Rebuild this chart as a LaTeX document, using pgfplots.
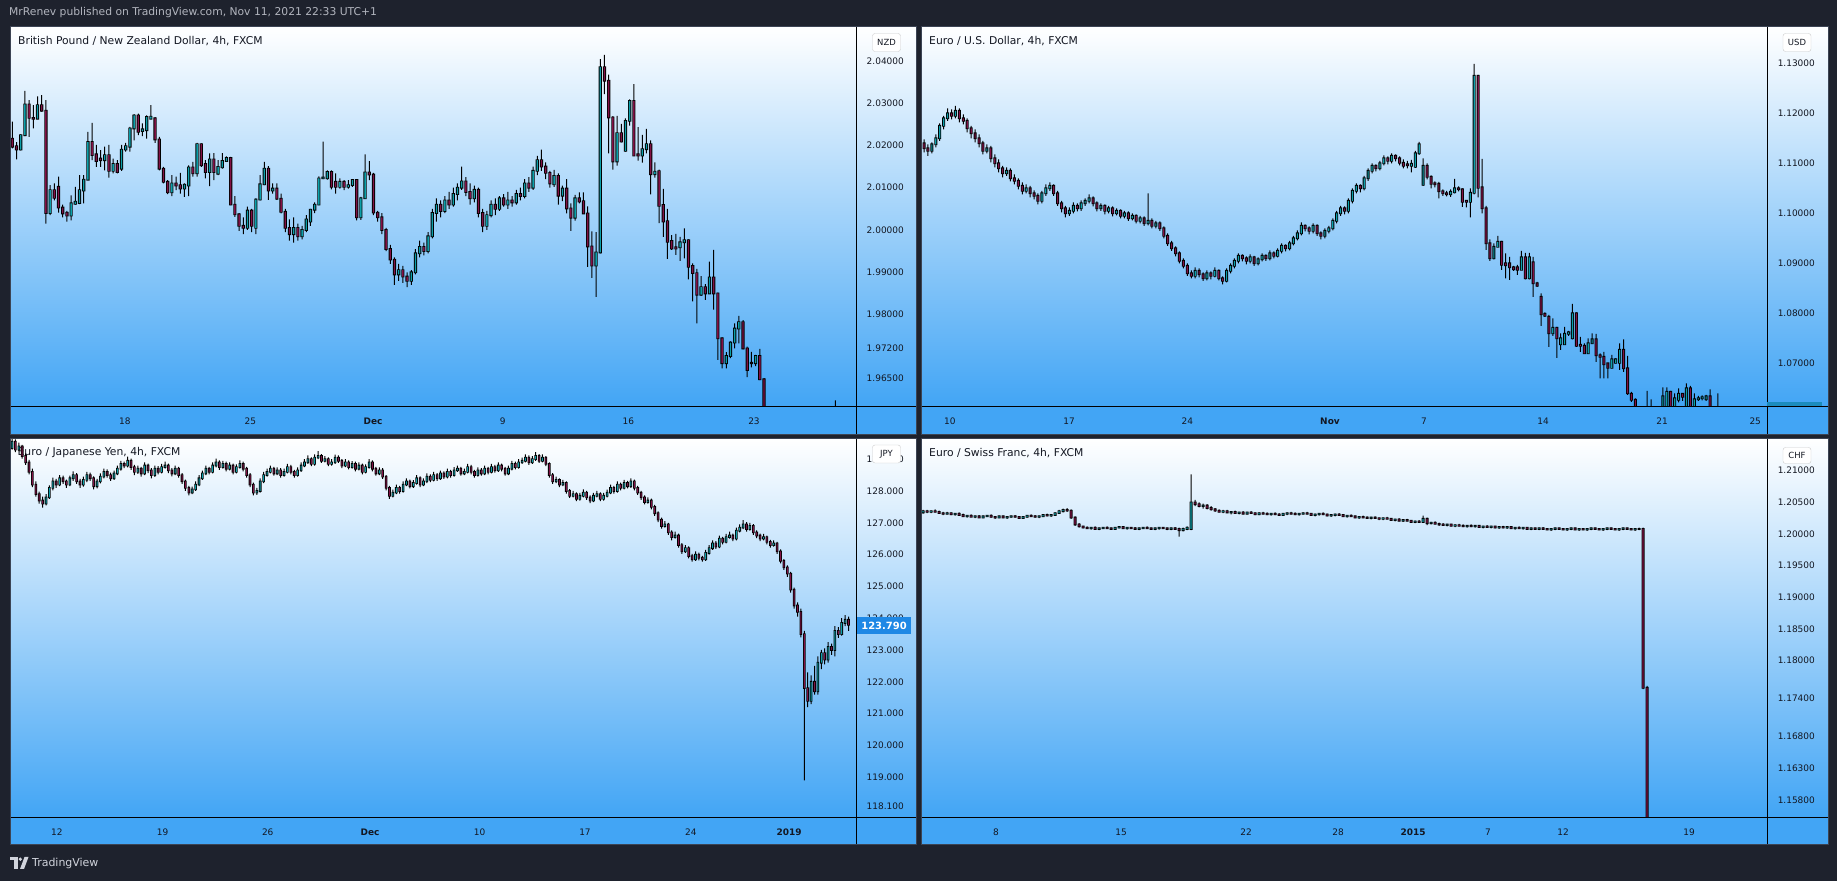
\documentclass[border=0pt]{standalone}
\usepackage{pgfplots}
\usepackage{pgfplotstable}
\usepackage{fontspec}
\pgfplotsset{compat=1.18}
\setmainfont{DejaVu Sans}

\definecolor{bg}{RGB}{30,34,45}
\definecolor{tvblue}{RGB}{66,165,245}
\definecolor{tvtext}{RGB}{19,23,34}
\definecolor{upc}{RGB}{12,160,170}
\definecolor{dnc}{RGB}{130,18,70}
\definecolor{hdr}{RGB}{178,181,190}
\definecolor{ftc}{RGB}{209,212,220}
\definecolor{tagblue}{RGB}{30,136,229}
\definecolor{usdtag}{RGB}{27,140,190}
\definecolor{pframe}{RGB}{60,68,84}

% GBP/NZD 4h, o h l c
\pgfplotstableread{
o h l c
2.0216 2.0256 2.0193 2.0197
2.0198 2.0208 2.0167 2.0190
2.0190 2.0226 2.0188 2.0224
2.0224 2.0329 2.0222 2.0297
2.0297 2.0307 2.0220 2.0265
2.0265 2.0295 2.0240 2.0263
2.0263 2.0316 2.0262 2.0295
2.0295 2.0319 2.0280 2.0282
2.0282 2.0307 2.0015 2.0040
2.0040 2.0106 2.0035 2.0094
2.0094 2.0110 2.0070 2.0076
2.0102 2.0126 2.0041 2.0053
2.0053 2.0060 2.0030 2.0039
2.0041 2.0045 2.0020 2.0034
2.0034 2.0082 2.0023 2.0063
2.0062 2.0102 2.0060 2.0067
2.0064 2.0130 2.0061 2.0094
2.0093 2.0130 2.0063 2.0119
2.0119 2.0232 2.0119 2.0208
2.0208 2.0253 2.0165 2.0177
2.0179 2.0201 2.0149 2.0163
2.0169 2.0189 2.0149 2.0165
2.0165 2.0197 2.0141 2.0177
2.0177 2.0201 2.0124 2.0140
2.0140 2.0169 2.0134 2.0156
2.0156 2.0165 2.0134 2.0137
2.0145 2.0201 2.0140 2.0190
2.0190 2.0206 2.0185 2.0198
2.0197 2.0244 2.0185 2.0240
2.0240 2.0274 2.0212 2.0271
2.0271 2.0275 2.0224 2.0232
2.0234 2.0252 2.0222 2.0238
2.0236 2.0271 2.0216 2.0267
2.0263 2.0295 2.0263 2.0268
2.0264 2.0267 2.0206 2.0214
2.0214 2.0220 2.0141 2.0145
2.0145 2.0149 2.0110 2.0114
2.0114 2.0118 2.0085 2.0089
2.0089 2.0130 2.0080 2.0110
2.0110 2.0126 2.0094 2.0105
2.0106 2.0135 2.0086 2.0098
2.0098 2.0110 2.0078 2.0107
2.0105 2.0153 2.0080 2.0148
2.0148 2.0161 2.0126 2.0134
2.0134 2.0206 2.0126 2.0203
2.0203 2.0205 2.0149 2.0153
2.0156 2.0165 2.0122 2.0137
2.0137 2.0181 2.0104 2.0167
2.0167 2.0182 2.0118 2.0137
2.0133 2.0165 2.0130 2.0149
2.0148 2.0182 2.0145 2.0163
2.0163 2.0174 2.0161 2.0170
2.0170 2.0173 2.0059 2.0060
2.0060 2.0080 2.0031 2.0037
2.0037 2.0040 1.9998 2.0010
2.0010 2.0030 1.9990 2.0005
2.0005 2.0055 2.0000 2.0046
2.0046 2.0050 1.9995 2.0010
2.0005 2.0075 1.9990 2.0072
2.0072 2.0130 2.0070 2.0108
2.0108 2.0161 2.0106 2.0145
2.0145 2.0151 2.0071 2.0093
2.0093 2.0110 2.0086 2.0098
2.0098 2.0110 2.0071 2.0074
2.0074 2.0086 2.0039 2.0043
2.0043 2.0050 1.9995 2.0005
2.0005 2.0025 1.9975 1.9990
1.9990 2.0030 1.9970 2.0005
2.0005 2.0015 1.9975 1.9985
1.9985 2.0010 1.9978 2.0000
2.0000 2.0035 1.9995 2.0025
2.0020 2.0050 2.0010 2.0048
2.0048 2.0065 2.0040 2.0060
2.0060 2.0127 2.0059 2.0122
2.0122 2.0209 2.0120 2.0124
2.0122 2.0141 2.0119 2.0137
2.0137 2.0141 2.0096 2.0102
2.0114 2.0134 2.0086 2.0102
2.0102 2.0122 2.0098 2.0114
2.0114 2.0118 2.0094 2.0102
2.0102 2.0118 2.0098 2.0106
2.0106 2.0120 2.0102 2.0118
2.0118 2.0120 2.0023 2.0030
2.0030 2.0078 2.0024 2.0075
2.0075 2.0179 2.0075 2.0136
2.0136 2.0163 2.0118 2.0131
2.0131 2.0135 2.0035 2.0041
2.0041 2.0045 2.0020 2.0030
2.0030 2.0040 1.9990 2.0000
2.0000 2.0005 1.9950 1.9955
1.9955 1.9965 1.9920 1.9930
1.9930 1.9935 1.9870 1.9895
1.9895 1.9920 1.9880 1.9905
1.9905 1.9915 1.9875 1.9890
1.9890 1.9900 1.9865 1.9880
1.9880 1.9905 1.9870 1.9900
1.9900 1.9955 1.9895 1.9945
1.9945 1.9975 1.9935 1.9960
1.9960 1.9970 1.9940 1.9950
1.9950 1.9995 1.9945 1.9985
1.9985 2.0050 1.9980 2.0040
2.0040 2.0075 2.0020 2.0060
2.0060 2.0070 2.0030 2.0045
2.0045 2.0080 2.0040 2.0070
2.0070 2.0090 2.0050 2.0060
2.0060 2.0100 2.0055 2.0085
2.0085 2.0110 2.0070 2.0100
2.0100 2.0150 2.0095 2.0115
2.0115 2.0125 2.0080 2.0090
2.0090 2.0110 2.0060 2.0075
2.0075 2.0105 2.0065 2.0095
2.0095 2.0100 2.0030 2.0040
2.0040 2.0050 1.9995 2.0010
2.0010 2.0045 2.0000 2.0035
2.0035 2.0070 2.0030 2.0060
2.0060 2.0075 2.0035 2.0050
2.0050 2.0080 2.0045 2.0075
2.0075 2.0085 2.0055 2.0060
2.0060 2.0090 2.0050 2.0070
2.0070 2.0080 2.0055 2.0065
2.0065 2.0095 2.0060 2.0085
2.0085 2.0100 2.0070 2.0080
2.0080 2.0120 2.0075 2.0110
2.0110 2.0125 2.0090 2.0100
2.0100 2.0150 2.0095 2.0140
2.0140 2.0175 2.0130 2.0165
2.0165 2.0190 2.0140 2.0150
2.0150 2.0160 2.0120 2.0135
2.0135 2.0140 2.0100 2.0110
2.0108 2.0142 2.0102 2.0128
2.0128 2.0134 2.0060 2.0081
2.0081 2.0105 2.0068 2.0098
2.0098 2.0120 2.0039 2.0051
2.0051 2.0063 1.9998 2.0029
2.0029 2.0083 2.0022 2.0075
2.0075 2.0089 2.0063 2.0067
2.0068 2.0089 2.0038 2.0039
2.0039 2.0056 1.9913 1.9961
1.9961 1.9997 1.9887 1.9916
1.9916 1.9995 1.9842 1.9947
1.9947 2.0404 1.9945 2.0385
2.0385 2.0414 2.0321 2.0353
2.0353 2.0367 2.0181 2.0266
2.0266 2.0269 2.0143 2.0162
2.0162 2.0270 2.0152 2.0229
2.0229 2.0251 2.0207 2.0209
2.0187 2.0264 2.0185 2.0258
2.0258 2.0309 2.0247 2.0305
2.0305 2.0345 2.0175 2.0176
2.0179 2.0243 2.0164 2.0176
2.0176 2.0225 2.0159 2.0191
2.0191 2.0239 2.0181 2.0203
2.0203 2.0212 2.0084 2.0132
2.0132 2.0160 2.0124 2.0138
2.0139 2.0143 2.0016 2.0057
2.0059 2.0097 1.9984 2.0020
2.0021 2.0050 1.9932 1.9972
1.9974 1.9988 1.9953 1.9956
1.9959 1.9991 1.9941 1.9956
1.9959 1.9984 1.9927 1.9971
1.9971 2.0004 1.9933 1.9976
1.9976 1.9978 1.9883 1.9913
1.9915 1.9921 1.9831 1.9898
1.9898 1.9908 1.9779 1.9847
1.9847 1.9891 1.9844 1.9865
1.9865 1.9872 1.9835 1.9850
1.9850 1.9925 1.9849 1.9888
1.9888 1.9953 1.9812 1.9850
1.9850 1.9852 1.9693 1.9744
1.9744 1.9746 1.9673 1.9685
1.9685 1.9711 1.9673 1.9702
1.9702 1.9737 1.9697 1.9734
1.9734 1.9779 1.9720 1.9767
1.9767 1.9797 1.9732 1.9782
1.9782 1.9787 1.9718 1.9720
1.9720 1.9724 1.9652 1.9669
1.9686 1.9712 1.9675 1.9685
1.9685 1.9705 1.9678 1.9702
1.9702 1.9719 1.9645 1.9647
1.9647 1.9650 1.9480 1.9500
1.9500 1.9540 1.9460 1.9480
1.9480 1.9520 1.9450 1.9500
1.9500 1.9530 1.9470 1.9490
1.9490 1.9520 1.9460 1.9510
1.9510 1.9550 1.9490 1.9530
1.9530 1.9560 1.9500 1.9520
1.9520 1.9550 1.9490 1.9500
1.9500 1.9540 1.9480 1.9520
1.9520 1.9560 1.9500 1.9540
1.9540 1.9570 1.9510 1.9530
1.9530 1.9560 1.9500 1.9510
1.9510 1.9550 1.9490 1.9530
1.9530 1.9570 1.9510 1.9550
1.9550 1.9575 1.9520 1.9540
1.9540 1.9570 1.9510 1.9530
1.9530 1.9560 1.9500 1.9540
1.9540 1.9597 1.9530 1.9560
}\tlData

% EUR/USD 4h
\pgfplotstableread{
o h l c
1.1140 1.1148 1.1122 1.1130
1.1130 1.1138 1.1115 1.1125
1.1125 1.1142 1.1120 1.1138
1.1138 1.1158 1.1132 1.1150
1.1150 1.1180 1.1145 1.1175
1.1175 1.1195 1.1168 1.1190
1.1190 1.1210 1.1185 1.1200
1.1200 1.1208 1.1188 1.1195
1.1195 1.1215 1.1190 1.1205
1.1205 1.1210 1.1182 1.1190
1.1190 1.1198 1.1178 1.1185
1.1185 1.1190 1.1162 1.1170
1.1170 1.1175 1.1150 1.1160
1.1160 1.1168 1.1142 1.1150
1.1150 1.1158 1.1132 1.1140
1.1140 1.1145 1.1118 1.1125
1.1125 1.1138 1.1120 1.1130
1.1130 1.1135 1.1102 1.1110
1.1110 1.1118 1.1092 1.1100
1.1100 1.1108 1.1082 1.1090
1.1090 1.1095 1.1072 1.1080
1.1080 1.1092 1.1075 1.1085
1.1085 1.1090 1.1064 1.1070
1.1070 1.1078 1.1058 1.1065
1.1065 1.1070 1.1048 1.1055
1.1055 1.1062 1.1038 1.1045
1.1045 1.1058 1.1040 1.1050
1.1050 1.1055 1.1032 1.1040
1.1040 1.1046 1.1028 1.1035
1.1035 1.1040 1.1018 1.1025
1.1025 1.1045 1.1020 1.1040
1.1040 1.1058 1.1035 1.1050
1.1050 1.1062 1.1045 1.1055
1.1055 1.1058 1.1035 1.1040
1.1040 1.1045 1.1015 1.1020
1.1020 1.1025 1.1002 1.1010
1.1010 1.1015 1.0992 1.1000
1.1000 1.1012 1.0995 1.1005
1.1005 1.1022 1.1000 1.1015
1.1015 1.1020 1.1004 1.1010
1.1010 1.1026 1.1005 1.1020
1.1020 1.1030 1.1015 1.1025
1.1025 1.1038 1.1020 1.1030
1.1030 1.1034 1.1014 1.1020
1.1020 1.1024 1.1004 1.1010
1.1010 1.1020 1.1005 1.1015
1.1015 1.1018 1.0998 1.1005
1.1005 1.1015 1.1000 1.1010
1.1010 1.1014 1.0994 1.1000
1.1000 1.1010 1.0996 1.1005
1.1005 1.1008 1.0990 1.0995
1.0995 1.1005 1.0990 1.1000
1.1000 1.1004 1.0985 1.0990
1.0990 1.1000 1.0986 1.0995
1.0995 1.0998 1.0980 1.0985
1.0985 1.0995 1.0980 1.0990
1.0990 1.0994 1.0975 1.0980
1.0980 1.1040 1.0976 1.0985
1.0985 1.0990 1.0970 1.0975
1.0975 1.0985 1.0970 1.0980
1.0980 1.0984 1.0965 1.0970
1.0970 1.0974 1.0950 1.0955
1.0955 1.0960 1.0935 1.0940
1.0940 1.0945 1.0925 1.0930
1.0930 1.0934 1.0914 1.0920
1.0920 1.0924 1.0900 1.0905
1.0905 1.0910 1.0890 1.0895
1.0895 1.0900 1.0875 1.0880
1.0880 1.0886 1.0870 1.0875
1.0875 1.0892 1.0870 1.0885
1.0885 1.0890 1.0872 1.0878
1.0878 1.0882 1.0865 1.0870
1.0870 1.0886 1.0866 1.0880
1.0880 1.0884 1.0868 1.0875
1.0875 1.0892 1.0872 1.0885
1.0885 1.0888 1.0866 1.0870
1.0870 1.0874 1.0858 1.0865
1.0865 1.0890 1.0862 1.0885
1.0885 1.0900 1.0880 1.0895
1.0895 1.0910 1.0890 1.0905
1.0905 1.0920 1.0900 1.0915
1.0915 1.0918 1.0904 1.0910
1.0910 1.0914 1.0898 1.0905
1.0905 1.0918 1.0900 1.0912
1.0912 1.0915 1.0895 1.0900
1.0900 1.0912 1.0896 1.0908
1.0908 1.0920 1.0904 1.0915
1.0915 1.0918 1.0905 1.0910
1.0910 1.0926 1.0906 1.0920
1.0920 1.0924 1.0910 1.0915
1.0915 1.0930 1.0912 1.0925
1.0925 1.0940 1.0920 1.0935
1.0935 1.0938 1.0924 1.0930
1.0930 1.0945 1.0926 1.0940
1.0940 1.0955 1.0936 1.0950
1.0950 1.0966 1.0946 1.0960
1.0960 1.0982 1.0956 1.0975
1.0975 1.0978 1.0964 1.0970
1.0970 1.0974 1.0958 1.0965
1.0965 1.0980 1.0960 1.0975
1.0975 1.0978 1.0955 1.0960
1.0960 1.0964 1.0948 1.0955
1.0955 1.0970 1.0950 1.0965
1.0965 1.0975 1.0960 1.0970
1.0970 1.0990 1.0966 1.0985
1.0985 1.1005 1.0980 1.1000
1.1000 1.1015 1.0995 1.1010
1.1010 1.1014 1.0998 1.1005
1.1005 1.1030 1.1000 1.1025
1.1025 1.1050 1.1020 1.1045
1.1045 1.1060 1.1040 1.1055
1.1055 1.1058 1.1042 1.1050
1.1050 1.1075 1.1046 1.1070
1.1070 1.1090 1.1065 1.1085
1.1085 1.1100 1.1080 1.1095
1.1095 1.1098 1.1084 1.1090
1.1090 1.1105 1.1086 1.1100
1.1100 1.1116 1.1096 1.1110
1.1110 1.1114 1.1098 1.1105
1.1105 1.1120 1.1100 1.1115
1.1115 1.1118 1.1104 1.1110
1.1110 1.1114 1.1096 1.1101
1.1101 1.1108 1.1090 1.1095
1.1098 1.1105 1.1090 1.1096
1.1095 1.1107 1.1082 1.1099
1.1093 1.1125 1.1091 1.1120
1.1120 1.1143 1.1117 1.1138
1.1057 1.1110 1.1055 1.1095
1.1095 1.1100 1.1068 1.1073
1.1073 1.1076 1.1050 1.1059
1.1060 1.1064 1.1052 1.1058
1.1059 1.1063 1.1030 1.1044
1.1044 1.1048 1.1035 1.1040
1.1040 1.1045 1.1034 1.1038
1.1038 1.1048 1.1033 1.1043
1.1042 1.1069 1.1040 1.1050
1.1050 1.1054 1.1044 1.1048
1.1048 1.1050 1.1013 1.1023
1.1025 1.1026 1.1012 1.1023
1.1023 1.1050 1.0992 1.1041
1.1041 1.1299 1.1038 1.1275
1.1275 1.1277 1.1032 1.1051
1.1052 1.1109 1.1000 1.1010
1.1010 1.1015 1.0927 1.0940
1.0940 1.0948 1.0905 1.0910
1.0910 1.0940 1.0908 1.0933
1.0933 1.0955 1.0933 1.0943
1.0943 1.0945 1.0887 1.0897
1.0900 1.0920 1.0870 1.0896
1.0900 1.0913 1.0867 1.0892
1.0892 1.0895 1.0885 1.0888
1.0892 1.0897 1.0877 1.0887
1.0887 1.0925 1.0887 1.0912
1.0912 1.0921 1.0868 1.0870
1.0870 1.0921 1.0868 1.0912
1.0902 1.0913 1.0833 1.0860
1.0860 1.0863 1.0853 1.0855
1.0833 1.0840 1.0775 1.0798
1.0799 1.0802 1.0793 1.0795
1.0793 1.0797 1.0733 1.0760
1.0760 1.0790 1.0755 1.0771
1.0771 1.0773 1.0711 1.0750
1.0738 1.0760 1.0727 1.0750
1.0738 1.0773 1.0737 1.0759
1.0759 1.0765 1.0755 1.0762
1.0750 1.0819 1.0748 1.0800
1.0800 1.0802 1.0733 1.0735
1.0737 1.0753 1.0723 1.0735
1.0735 1.0740 1.0719 1.0720
1.0720 1.0750 1.0719 1.0740
1.0740 1.0760 1.0740 1.0748
1.0748 1.0759 1.0703 1.0716
1.0716 1.0720 1.0670 1.0713
1.0713 1.0723 1.0670 1.0698
1.0700 1.0700 1.0670 1.0691
1.0691 1.0717 1.0690 1.0708
1.0701 1.0710 1.0700 1.0708
1.0701 1.0740 1.0687 1.0727
1.0727 1.0748 1.0683 1.0690
1.0690 1.0715 1.0637 1.0640
1.0639 1.0643 1.0623 1.0627
1.0627 1.0630 1.0580 1.0590
1.0590 1.0600 1.0570 1.0580
1.0580 1.0605 1.0570 1.0595
1.0595 1.0645 1.0585 1.0600
1.0600 1.0628 1.0590 1.0605
1.0605 1.0610 1.0585 1.0595
1.0595 1.0605 1.0580 1.0590
1.0590 1.0652 1.0585 1.0634
1.0610 1.0652 1.0600 1.0643
1.0643 1.0645 1.0595 1.0600
1.0600 1.0640 1.0595 1.0630
1.0627 1.0650 1.0622 1.0639
1.0639 1.0640 1.0625 1.0633
1.0600 1.0660 1.0598 1.0650
1.0650 1.0655 1.0595 1.0600
1.0600 1.0640 1.0595 1.0628
1.0628 1.0635 1.0625 1.0630
1.0630 1.0636 1.0626 1.0632
1.0628 1.0637 1.0625 1.0634
1.0634 1.0648 1.0595 1.0600
1.0600 1.0610 1.0590 1.0605
1.0605 1.0640 1.0595 1.0600
}\trData

% EUR/JPY 4h
\pgfplotstableread{
o h l c
129.35 129.70 129.30 129.55
129.55 129.62 129.22 129.30
129.30 129.52 129.25 129.40
129.40 129.45 129.02 129.10
129.10 129.18 128.82 128.90
128.90 128.98 128.52 128.60
128.60 128.70 128.12 128.20
128.20 128.30 127.82 127.90
127.90 127.98 127.60 127.70
127.70 127.82 127.48 127.60
127.60 127.90 127.55 127.80
127.80 128.18 127.75 128.10
128.10 128.42 128.02 128.30
128.30 128.38 128.10 128.20
128.20 128.50 128.15 128.40
128.40 128.48 128.22 128.30
128.30 128.36 128.10 128.20
128.20 128.48 128.15 128.40
128.40 128.62 128.32 128.50
128.50 128.56 128.22 128.30
128.30 128.38 128.10 128.20
128.20 128.45 128.14 128.35
128.35 128.60 128.28 128.50
128.50 128.58 128.32 128.40
128.40 128.46 128.05 128.15
128.15 128.38 128.08 128.30
128.30 128.55 128.24 128.45
128.45 128.70 128.40 128.60
128.60 128.68 128.42 128.50
128.50 128.58 128.32 128.40
128.40 128.64 128.35 128.55
128.55 128.80 128.50 128.70
128.70 128.95 128.64 128.85
128.85 128.92 128.72 128.80
128.80 129.08 128.74 128.95
128.95 129.02 128.66 128.75
128.75 128.82 128.50 128.60
128.60 128.80 128.54 128.70
128.70 128.76 128.45 128.55
128.55 128.90 128.50 128.80
128.80 128.86 128.56 128.65
128.65 128.72 128.40 128.50
128.50 128.80 128.44 128.70
128.70 128.78 128.52 128.60
128.60 128.85 128.55 128.75
128.75 128.92 128.70 128.80
128.80 128.86 128.56 128.65
128.65 128.72 128.46 128.55
128.55 128.80 128.50 128.70
128.70 128.76 128.42 128.50
128.50 128.56 128.22 128.30
128.30 128.36 128.00 128.10
128.10 128.16 127.86 127.95
127.95 128.14 127.90 128.05
128.05 128.30 128.00 128.20
128.20 128.50 128.15 128.40
128.40 128.64 128.35 128.55
128.55 128.80 128.50 128.70
128.70 128.76 128.52 128.60
128.60 128.90 128.55 128.80
128.80 129.02 128.74 128.90
128.90 128.96 128.66 128.75
128.75 128.95 128.70 128.85
128.85 128.92 128.62 128.70
128.70 128.90 128.65 128.80
128.80 128.86 128.52 128.60
128.60 128.84 128.55 128.75
128.75 128.96 128.70 128.85
128.85 128.92 128.62 128.70
128.70 128.76 128.42 128.50
128.50 128.56 128.12 128.20
128.20 128.26 127.86 127.95
127.95 128.10 127.88 128.00
128.00 128.40 127.95 128.30
128.30 128.60 128.25 128.50
128.50 128.70 128.45 128.60
128.60 128.80 128.55 128.70
128.70 128.76 128.48 128.55
128.55 128.74 128.50 128.65
128.65 128.72 128.42 128.50
128.50 128.70 128.45 128.60
128.60 128.85 128.55 128.75
128.75 128.82 128.52 128.60
128.60 128.66 128.42 128.50
128.50 128.74 128.45 128.65
128.65 128.90 128.60 128.80
128.80 129.00 128.75 128.90
128.90 129.12 128.85 129.00
129.00 129.06 128.78 128.85
128.85 129.15 128.80 129.05
129.05 129.25 129.00 129.10
129.10 129.16 128.88 128.95
128.95 129.10 128.90 129.00
129.00 129.06 128.78 128.85
128.85 129.00 128.80 128.90
128.90 129.14 128.85 129.05
129.05 129.12 128.88 128.95
128.95 129.00 128.72 128.80
128.80 129.00 128.75 128.90
128.90 128.96 128.68 128.75
128.75 128.94 128.70 128.85
128.85 128.92 128.62 128.70
128.70 128.90 128.65 128.80
128.80 128.86 128.52 128.60
128.60 128.84 128.55 128.75
128.75 129.00 128.70 128.90
128.90 128.96 128.62 128.70
128.70 128.76 128.48 128.55
128.55 128.74 128.50 128.65
128.65 128.72 128.38 128.45
128.45 128.50 128.02 128.10
128.10 128.16 127.75 127.85
127.85 128.04 127.80 127.95
127.95 128.20 127.90 128.10
128.10 128.16 127.92 128.00
128.00 128.30 127.95 128.20
128.20 128.40 128.15 128.30
128.30 128.36 128.08 128.15
128.15 128.34 128.10 128.25
128.25 128.50 128.20 128.40
128.40 128.46 128.12 128.20
128.20 128.40 128.15 128.30
128.30 128.55 128.25 128.45
128.45 128.52 128.28 128.35
128.35 128.60 128.30 128.50
128.50 128.56 128.32 128.40
128.40 128.64 128.35 128.55
128.55 128.62 128.38 128.45
128.45 128.70 128.40 128.60
128.60 128.66 128.42 128.50
128.50 128.75 128.45 128.65
128.65 128.80 128.60 128.70
128.70 128.76 128.48 128.55
128.55 128.70 128.50 128.60
128.60 128.85 128.55 128.75
128.75 128.82 128.52 128.60
128.60 128.66 128.42 128.50
128.50 128.74 128.45 128.65
128.65 128.72 128.48 128.55
128.55 128.80 128.50 128.70
128.70 128.76 128.52 128.60
128.60 128.85 128.55 128.75
128.75 128.82 128.58 128.65
128.65 128.90 128.60 128.80
128.80 128.86 128.62 128.70
128.70 128.76 128.48 128.55
128.55 128.80 128.50 128.70
128.70 128.95 128.65 128.85
128.85 128.92 128.68 128.75
128.75 129.00 128.70 128.90
128.90 129.05 128.85 128.95
128.95 129.15 128.90 129.05
129.05 129.12 128.82 128.90
128.90 129.10 128.85 129.00
129.00 129.22 128.95 129.10
129.10 129.16 128.88 128.95
128.95 129.15 128.90 129.05
129.05 129.10 128.78 128.85
128.85 128.90 128.42 128.50
128.50 128.56 128.22 128.30
128.30 128.45 128.25 128.35
128.35 128.40 128.12 128.20
128.20 128.35 128.15 128.25
128.25 128.30 127.92 128.00
128.00 128.06 127.78 127.85
127.85 128.00 127.80 127.90
127.90 127.96 127.68 127.75
127.75 127.94 127.70 127.85
127.85 128.05 127.80 127.95
127.95 128.00 127.72 127.80
127.80 127.86 127.62 127.70
127.70 127.94 127.65 127.85
127.85 128.00 127.80 127.90
127.90 127.96 127.68 127.75
127.75 127.94 127.70 127.85
127.85 128.04 127.80 127.95
127.95 128.20 127.90 128.10
128.10 128.16 127.92 128.00
128.00 128.30 127.95 128.20
128.20 128.26 128.02 128.10
128.10 128.35 128.05 128.25
128.25 128.32 128.08 128.15
128.15 128.40 128.10 128.30
128.30 128.36 128.02 128.10
128.10 128.16 127.88 127.95
127.95 128.00 127.72 127.80
127.80 127.86 127.58 127.65
127.65 127.80 127.60 127.70
127.70 127.76 127.42 127.50
127.50 127.56 127.22 127.30
127.30 127.36 127.02 127.10
127.10 127.16 126.82 126.90
126.90 127.05 126.85 126.95
126.95 127.00 126.62 126.70
126.70 126.76 126.45 126.55
126.55 126.72 126.50 126.60
126.60 126.66 126.22 126.30
126.30 126.36 126.02 126.10
126.10 126.30 126.05 126.20
126.20 126.26 125.88 125.95
125.95 126.02 125.78 125.85
125.85 126.10 125.80 126.00
126.00 126.06 125.82 125.90
125.90 125.96 125.78 125.85
125.85 126.15 125.80 126.05
126.05 126.30 126.00 126.20
126.20 126.45 126.15 126.35
126.35 126.42 126.18 126.25
126.25 126.60 126.20 126.50
126.50 126.56 126.32 126.40
126.40 126.65 126.35 126.55
126.55 126.72 126.50 126.60
126.60 126.66 126.42 126.50
126.50 126.85 126.45 126.75
126.75 126.95 126.70 126.85
126.85 127.08 126.80 126.95
126.95 127.02 126.72 126.80
126.80 127.00 126.75 126.90
126.90 126.96 126.62 126.70
126.70 126.76 126.52 126.60
126.60 126.66 126.42 126.50
126.50 126.65 126.45 126.55
126.55 126.60 126.32 126.40
126.40 126.46 126.22 126.30
126.30 126.45 126.25 126.35
126.35 126.40 126.02 126.10
126.10 126.16 125.72 125.80
125.80 125.86 125.52 125.60
125.60 125.66 125.30 125.40
125.40 125.46 124.80 124.90
124.90 124.96 124.30 124.40
124.40 124.50 124.05 124.20
124.20 124.30 123.40 123.50
123.50 123.60 118.90 121.80
121.80 122.30 121.20 121.40
121.40 122.20 121.30 122.00
122.00 122.50 121.60 121.70
121.70 122.80 121.60 122.60
122.60 123.00 122.40 122.90
122.90 123.05 122.55 122.70
122.70 123.25 122.60 123.10
123.10 123.20 122.85 123.00
123.00 123.75 122.80 123.60
123.60 123.72 123.38 123.50
123.50 124.00 123.45 123.85
123.85 124.10 123.75 123.95
123.95 124.05 123.60 123.79
}\blData

% EUR/CHF 4h
\pgfplotstableread{
o h l c
1.2034 1.2038 1.2032 1.2036
1.2036 1.2038 1.2033 1.2035
1.2035 1.2037 1.2033 1.2036
1.2036 1.2039 1.2034 1.2035
1.2035 1.2037 1.2032 1.2033
1.2033 1.2035 1.2030 1.2032
1.2032 1.2035 1.2031 1.2033
1.2033 1.2034 1.2030 1.2031
1.2031 1.2033 1.2029 1.2032
1.2032 1.2034 1.2030 1.2030
1.2030 1.2032 1.2027 1.2028
1.2028 1.2030 1.2026 1.2029
1.2029 1.2031 1.2027 1.2027
1.2027 1.2029 1.2025 1.2028
1.2028 1.2030 1.2026 1.2026
1.2026 1.2029 1.2025 1.2028
1.2028 1.2030 1.2027 1.2029
1.2029 1.2031 1.2026 1.2027
1.2027 1.2028 1.2024 1.2026
1.2026 1.2029 1.2025 1.2028
1.2028 1.2029 1.2025 1.2026
1.2026 1.2028 1.2024 1.2027
1.2027 1.2029 1.2026 1.2028
1.2028 1.2030 1.2026 1.2027
1.2027 1.2028 1.2024 1.2025
1.2025 1.2028 1.2024 1.2027
1.2027 1.2030 1.2026 1.2029
1.2029 1.2031 1.2027 1.2028
1.2028 1.2030 1.2026 1.2027
1.2027 1.2029 1.2025 1.2028
1.2028 1.2031 1.2027 1.2030
1.2030 1.2032 1.2028 1.2029
1.2029 1.2031 1.2027 1.2030
1.2030 1.2034 1.2029 1.2033
1.2033 1.2038 1.2032 1.2036
1.2036 1.2040 1.2034 1.2038
1.2038 1.2041 1.2035 1.2037
1.2037 1.2039 1.2024 1.2026
1.2026 1.2028 1.2013 1.2015
1.2015 1.2017 1.2010 1.2012
1.2012 1.2013 1.2009 1.2010
1.2010 1.2012 1.2008 1.2009
1.2009 1.2011 1.2007 1.2010
1.2010 1.2012 1.2008 1.2008
1.2008 1.2010 1.2006 1.2009
1.2009 1.2011 1.2008 1.2010
1.2010 1.2012 1.2008 1.2009
1.2009 1.2010 1.2007 1.2008
1.2008 1.2011 1.2007 1.2010
1.2010 1.2012 1.2009 1.2011
1.2011 1.2012 1.2008 1.2009
1.2009 1.2011 1.2007 1.2010
1.2010 1.2011 1.2008 1.2009
1.2009 1.2011 1.2007 1.2008
1.2008 1.2010 1.2006 1.2009
1.2009 1.2011 1.2008 1.2010
1.2010 1.2012 1.2008 1.2009
1.2009 1.2010 1.2007 1.2008
1.2008 1.2010 1.2006 1.2009
1.2009 1.2011 1.2007 1.2010
1.2010 1.2011 1.2008 1.2009
1.2009 1.2010 1.2006 1.2008
1.2008 1.2010 1.2006 1.2009
1.2009 1.2011 1.2007 1.2008
1.2008 1.2010 1.1996 1.2006
1.2006 1.2010 1.2004 1.2008
1.2008 1.2012 1.2006 1.2010
1.2008 1.2094 1.2006 1.2050
1.2050 1.2054 1.2044 1.2047
1.2047 1.2050 1.2042 1.2044
1.2044 1.2048 1.2040 1.2045
1.2045 1.2047 1.2039 1.2041
1.2041 1.2044 1.2037 1.2039
1.2039 1.2041 1.2035 1.2037
1.2037 1.2039 1.2034 1.2035
1.2035 1.2038 1.2033 1.2036
1.2036 1.2038 1.2033 1.2034
1.2034 1.2036 1.2031 1.2035
1.2035 1.2037 1.2032 1.2033
1.2033 1.2035 1.2031 1.2034
1.2034 1.2036 1.2031 1.2032
1.2032 1.2035 1.2031 1.2034
1.2034 1.2036 1.2032 1.2033
1.2033 1.2034 1.2030 1.2031
1.2031 1.2034 1.2030 1.2033
1.2033 1.2035 1.2031 1.2032
1.2032 1.2034 1.2030 1.2031
1.2031 1.2033 1.2029 1.2032
1.2032 1.2034 1.2030 1.2031
1.2031 1.2033 1.2029 1.2030
1.2030 1.2033 1.2029 1.2032
1.2032 1.2034 1.2030 1.2033
1.2033 1.2035 1.2031 1.2032
1.2032 1.2034 1.2030 1.2031
1.2031 1.2033 1.2029 1.2032
1.2032 1.2034 1.2031 1.2033
1.2033 1.2035 1.2031 1.2032
1.2032 1.2033 1.2029 1.2030
1.2030 1.2032 1.2028 1.2031
1.2031 1.2033 1.2029 1.2032
1.2032 1.2034 1.2030 1.2031
1.2031 1.2032 1.2028 1.2029
1.2029 1.2031 1.2027 1.2030
1.2030 1.2032 1.2028 1.2031
1.2031 1.2033 1.2029 1.2030
1.2030 1.2031 1.2027 1.2028
1.2028 1.2030 1.2026 1.2029
1.2029 1.2031 1.2027 1.2028
1.2028 1.2029 1.2025 1.2026
1.2026 1.2028 1.2024 1.2027
1.2027 1.2029 1.2025 1.2026
1.2026 1.2028 1.2024 1.2025
1.2025 1.2027 1.2023 1.2026
1.2026 1.2028 1.2024 1.2025
1.2025 1.2026 1.2022 1.2024
1.2024 1.2026 1.2022 1.2025
1.2025 1.2027 1.2023 1.2024
1.2024 1.2025 1.2021 1.2022
1.2022 1.2024 1.2020 1.2023
1.2023 1.2025 1.2020 1.2021
1.2021 1.2023 1.2019 1.2022
1.2022 1.2024 1.2020 1.2021
1.2021 1.2022 1.2018 1.2019
1.2019 1.2021 1.2017 1.2020
1.2020 1.2022 1.2018 1.2019
1.2019 1.2029 1.2018 1.2024
1.2024 1.2026 1.2014 1.2017
1.2017 1.2019 1.2015 1.2018
1.2018 1.2020 1.2015 1.2016
1.2016 1.2018 1.2013 1.2015
1.2015 1.2017 1.2013 1.2014
1.2014 1.2016 1.2012 1.2015
1.2015 1.2016 1.2012 1.2013
1.2013 1.2015 1.2011 1.2014
1.2014 1.2016 1.2012 1.2013
1.2013 1.2015 1.2011 1.2012
1.2012 1.2014 1.2010 1.2013
1.2013 1.2015 1.2011 1.2012
1.2012 1.2014 1.2010 1.2013
1.2013 1.2014 1.2010 1.2011
1.2011 1.2013 1.2009 1.2012
1.2012 1.2014 1.2010 1.2011
1.2011 1.2013 1.2009 1.2012
1.2012 1.2013 1.2009 1.2010
1.2010 1.2012 1.2008 1.2011
1.2011 1.2013 1.2009 1.2010
1.2010 1.2012 1.2008 1.2011
1.2011 1.2012 1.2008 1.2009
1.2009 1.2011 1.2007 1.2010
1.2010 1.2012 1.2008 1.2009
1.2009 1.2011 1.2007 1.2010
1.2010 1.2011 1.2007 1.2008
1.2008 1.2010 1.2006 1.2009
1.2009 1.2010 1.2007 1.2008
1.2008 1.2010 1.2006 1.2009
1.2009 1.2011 1.2007 1.2008
1.2008 1.2009 1.2006 1.2007
1.2007 1.2009 1.2005 1.2008
1.2008 1.2010 1.2006 1.2009
1.2009 1.2010 1.2007 1.2008
1.2008 1.2009 1.2006 1.2007
1.2007 1.2009 1.2005 1.2008
1.2008 1.2010 1.2006 1.2009
1.2009 1.2010 1.2006 1.2007
1.2007 1.2009 1.2005 1.2008
1.2008 1.2009 1.2006 1.2007
1.2007 1.2009 1.2005 1.2008
1.2008 1.2010 1.2006 1.2009
1.2009 1.2010 1.2007 1.2008
1.2008 1.2009 1.2006 1.2007
1.2007 1.2009 1.2005 1.2008
1.2008 1.2010 1.2006 1.2009
1.2009 1.2010 1.2007 1.2008
1.2008 1.2009 1.2006 1.2007
1.2007 1.2009 1.2005 1.2008
1.2008 1.2010 1.2006 1.2009
1.2009 1.2010 1.2007 1.2008
1.2008 1.2009 1.2006 1.2007
1.2007 1.2009 1.2005 1.2008
1.2008 1.2010 1.2006 1.2008
1.2008 1.2010 1.1755 1.1757
1.1757 1.1760 1.1000 1.1100
}\brData

\pgfplotsset{
  tvaxis/.style={
    scale only axis, anchor=south west,
    axis line style={draw=none}, major tick length=0pt, tick style={draw=none},
    xticklabel pos=lower, yticklabel pos=right,
    tick label style={font=\fontsize{9}{10}\selectfont, color=tvtext, inner sep=0pt},
    yticklabel style={anchor=east, xshift=48bp},
    xticklabel style={anchor=center, yshift=-14bp},
    /pgf/number format/assume math mode=true,
  },
  layer/.style={tvaxis, ybar stacked, stack plots=y, bar shift=0pt},
  tlgeo/.style={at={(10bp,474bp)}, width=846bp, height=380bp,
    xmin=-0.55, xmax=200.9, ymin=1.95816, ymax=2.04799},
  trgeo/.style={at={(921bp,474bp)}, width=846bp, height=380bp,
    xmin=-0.76, xmax=214.5, ymin=1.06126, ymax=1.13726},
  blgeo/.style={at={(10bp,63bp)}, width=846bp, height=379bp,
    xmin=-0.59, xmax=248.2, ymin=117.717, ymax=129.635},
  brgeo/.style={at={(921bp,63bp)}, width=846bp, height=379bp,
    xmin=-0.5, xmax=211, ymin=1.15513, ymax=1.21501},
}

% one stacked layer: invisible base bar, then the visible part on top of it
% #1 axis options, #2 table, #3 base, #4 length, #5 bar style
\newcommand{\layer}[5]{%
  \begin{axis}[layer, #1]
    \addplot[draw=none, fill=none, forget plot] table[x expr=\coordindex, y expr={#3}] {#2};
    \addplot[draw=none, #5] table[x expr=\coordindex, y expr={#4}] {#2};
  \end{axis}}
% whole candle set: wicks, black body, teal and maroon insides
% #1 geometry+ticks, #2 table, #3 delta, #4 body width, #5 inner width
\newcommand{\candles}[5]{%
  \layer{#1}{#2}{\thisrow{l}}{\thisrow{h}-\thisrow{l}}{fill=black, bar width=1bp}
  \layer{#1, ticks=none}{#2}{min(\thisrow{o},\thisrow{c})-#3}{abs(\thisrow{c}-\thisrow{o})+2*#3}{fill=black, bar width=#4}
  \layer{#1, ticks=none}{#2}{\thisrow{o}}{max(\thisrow{c}-\thisrow{o},0)}{fill=upc, bar width=#5}
  \layer{#1, ticks=none}{#2}{\thisrow{c}}{max(\thisrow{o}-\thisrow{c},0)}{fill=dnc, bar width=#5}}

\begin{document}
\begin{tikzpicture}[x=1bp,y=1bp]
\fill[bg] (0,0) rectangle (1837,881);
% panel backgrounds
\shade[top color=white, bottom color=tvblue] (10,474) rectangle (916,854);
\fill[tvblue] (10,446) rectangle (916,474);
\shade[top color=white, bottom color=tvblue] (921,474) rectangle (1828,854);
\fill[tvblue] (921,446) rectangle (1828,474);
\shade[top color=white, bottom color=tvblue] (10,63) rectangle (916,442);
\fill[tvblue] (10,36) rectangle (916,63);
\shade[top color=white, bottom color=tvblue] (921,63) rectangle (1828,442);
\fill[tvblue] (921,36) rectangle (1828,63);

% header and titles
\node[anchor=west, text=hdr, font=\fontsize{10.8}{12}\selectfont, inner sep=0] at (9,868) {MrRenev published on TradingView.com, Nov 11, 2021 22:33 UTC+1};
\node[anchor=west, text=tvtext, font=\fontsize{10.8}{12}\selectfont, inner sep=0] at (18,839.5) {British Pound / New Zealand Dollar, 4h, FXCM};
\node[anchor=west, text=tvtext, font=\fontsize{10.8}{12}\selectfont, inner sep=0] at (929,839.5) {Euro / U.S. Dollar, 4h, FXCM};
\node[anchor=west, text=tvtext, font=\fontsize{10.8}{12}\selectfont, inner sep=0] at (17.5,428) {Euro / Japanese Yen, 4h, FXCM};
\node[anchor=west, text=tvtext, font=\fontsize{10.8}{12}\selectfont, inner sep=0] at (929,428) {Euro / Swiss Franc, 4h, FXCM};

% GBP/NZD
\candles{tlgeo,
  xtick={26.8,56.7,85.9,116.8,146.7,176.6},
  xticklabels={18,25,\textbf{Dec},9,16,23},
  ytick={2.04,2.03,2.02,2.01,2.00,1.99,1.98,1.972,1.965},
  yticklabels={2.04000,2.03000,2.02000,2.01000,2.00000,1.99000,1.98000,1.97200,1.96500}}
  {\tlData}{0.0002}{3.2bp}{1.4bp}

% EUR/USD
\candles{trgeo,
  xtick={6.6,36.9,67.0,103.3,127.2,157.5,187.8,211.5},
  xticklabels={10,17,24,\textbf{Nov},7,14,21,25},
  ytick={1.13,1.12,1.11,1.10,1.09,1.08,1.07},
  yticklabels={1.13000,1.12000,1.11000,1.10000,1.09000,1.08000,1.07000}}
  {\trData}{0.00016}{3.0bp}{1.2bp}

% EUR/JPY
\candles{blgeo,
  xtick={13.2,44.3,75.2,105.3,137.5,168.5,199.6,228.5},
  xticklabels={12,19,26,\textbf{Dec},10,17,24,\textbf{2019}},
  ytick={129,128,127,126,125,124,123,122,121,120,119,118.1},
  yticklabels={129.000,128.000,127.000,126.000,125.000,124.000,123.000,122.000,121.000,120.000,119.000,118.100}}
  {\blData}{0.025}{2.6bp}{1.0bp}

% EUR/CHF
\candles{brgeo,
  xtick={18.25,49.5,80.75,103.75,122.5,141.25,160,191.5},
  xticklabels={8,15,22,28,\textbf{2015},7,12,19},
  ytick={1.21,1.205,1.20,1.195,1.19,1.185,1.18,1.174,1.168,1.163,1.158},
  yticklabels={1.21000,1.20500,1.20000,1.19500,1.19000,1.18500,1.18000,1.17400,1.16800,1.16300,1.15800}}
  {\brData}{0.00013}{3.0bp}{1.2bp}

% separators
\draw[black, line width=1bp] (856,446) -- (856,854);
\draw[black, line width=1bp] (10,474) -- (916,474);
\draw[black, line width=1bp] (1767,446) -- (1767,854);
\draw[black, line width=1bp] (921,474) -- (1828,474);
\draw[black, line width=1bp] (856,36) -- (856,442);
\draw[black, line width=1bp] (10,63) -- (916,63);
\draw[black, line width=1bp] (1767,36) -- (1767,442);
\draw[black, line width=1bp] (921,63) -- (1828,63);
\foreach \a/\b/\c/\d in {10/446/916/854, 921/446/1828/854, 10/36/916/442, 921/36/1828/442}
  \draw[pframe, line width=1bp] (\a,\b) rectangle (\c,\d);

% currency tags
\tikzset{ctag/.style={draw=black!20, fill=white, rounded corners=2.5bp, inner sep=0,
  minimum width=28bp, minimum height=18bp, font=\fontsize{8.5}{10}\selectfont, text=tvtext}}
\node[ctag] at (886.5,838.5) {NZD};
\node[ctag] at (1797,838.5) {USD};
\node[ctag] at (886.5,427) {JPY};
\node[ctag, minimum height=16bp] at (1797,425.5) {CHF};
\fill[usdtag] (1767,474.5) rectangle (1822,479);
\node[fill=tagblue, text=white, inner sep=0, minimum width=54bp, minimum height=17bp,
  font=\bfseries\fontsize{10}{12}\selectfont] at (884,255) {123.790};

% footer logo
\fill[ftc] (10,20.5) rectangle (17.5,24);
\fill[ftc] (14,12) rectangle (17.5,24);
\fill[ftc] (20.3,21.8) circle (1.8);
\fill[ftc] (20,12) -- (24,12) -- (28.5,24) -- (24.5,24) -- cycle;
\node[anchor=west, text=ftc, font=\fontsize{11}{13}\selectfont, inner sep=0] at (32,18) {TradingView};

\pgfresetboundingbox
\useasboundingbox (0,0) rectangle (1837,881);
\end{tikzpicture}
\end{document}
